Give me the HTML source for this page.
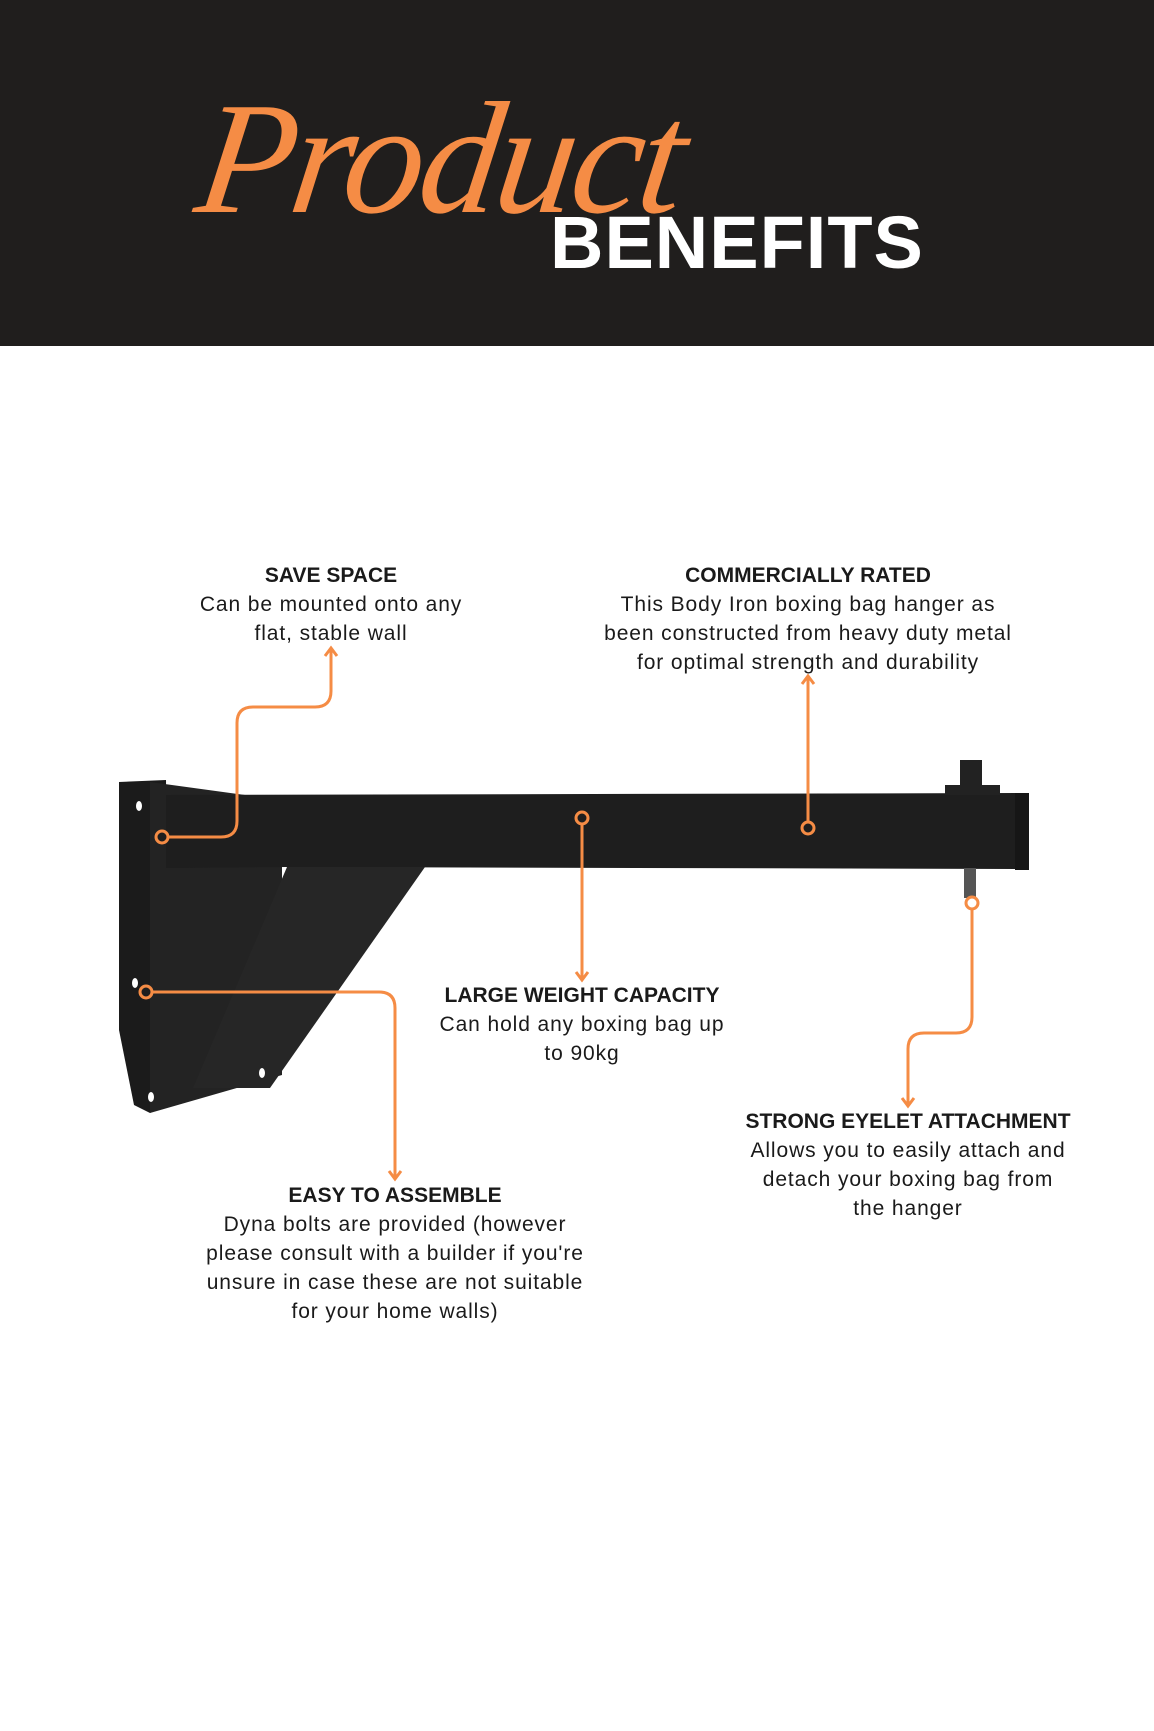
<!DOCTYPE html>
<html><head><meta charset="utf-8"><style>
html,body{margin:0;padding:0;}
body{width:1154px;height:1731px;position:relative;background:#fff;font-family:"Liberation Sans",sans-serif;overflow:hidden;}
.hdr{position:absolute;left:0;top:0;width:1154px;height:346px;background:#201e1d;}
.prod{position:absolute;left:200px;top:78px;font-family:"Liberation Serif",serif;font-style:italic;font-size:160px;color:#f58c45;letter-spacing:-4px;transform:skewX(-8deg);line-height:1;}
.ben{position:absolute;left:550px;top:206px;font-size:74px;font-weight:bold;color:#fff;line-height:1;letter-spacing:1px;}
.t{position:absolute;text-align:center;font-size:21px;line-height:29px;color:#1a1a1a;transform:translateX(-50%);white-space:nowrap;letter-spacing:0.9px;}
.t b{font-weight:bold;letter-spacing:0;}
</style></head><body>
<div class="hdr"></div>
<div class="prod">Product</div>
<div class="ben">BENEFITS</div>

<svg width="1154" height="1731" style="position:absolute;left:0;top:0">
 <polygon points="119,782 166,780 170,1100 150,1113 134,1105 119,1030" fill="#1b1b1b"/>
 <polygon points="150,782 282,800 282,1075 150,1113" fill="#232323"/>
 <polygon points="166,795 1027,793 1029,869 287,867 166,868" fill="#1e1e1e"/>
 <polygon points="287,867 425,867 270,1088 193,1088" fill="#262626"/>
 <rect x="1015" y="793" width="14" height="77" fill="#161616"/>
 <rect x="960" y="760" width="22" height="34" fill="#222"/>
 <rect x="945" y="785" width="55" height="10" fill="#222"/>
 <rect x="964" y="868" width="12" height="30" fill="#555"/>
 <g fill="#fff"><ellipse cx="139" cy="806" rx="3" ry="5"/><ellipse cx="135" cy="983" rx="3" ry="5"/><ellipse cx="151" cy="1097" rx="3" ry="5"/><ellipse cx="262" cy="1073" rx="3" ry="5"/></g>
 <g fill="none" stroke="#f58c45" stroke-width="3">
  <path d="M168,837 H221 Q237,837 237,821 V723 Q237,707 253,707 H315 Q331,707 331,691 V648"/>
  <path d="M325,656 L331,648 L337,656"/>
  <circle cx="162" cy="837" r="6" fill="#1e1e1e"/>
  <path d="M808,822 V676"/><path d="M802,684 L808,676 L814,684"/>
  <circle cx="808" cy="828" r="6" fill="#1e1e1e"/>
  <path d="M582,824 V980"/><path d="M576,972 L582,980 L588,972"/>
  <circle cx="582" cy="818" r="6" fill="#1e1e1e"/>
  <path d="M972,909 V1017 Q972,1033 956,1033 H924 Q908,1033 908,1049 V1106"/><path d="M902,1098 L908,1106 L914,1098"/>
  <circle cx="972" cy="903" r="6" fill="#fff"/>
  <path d="M152,992 H379 Q395,992 395,1008 V1179"/><path d="M389,1171 L395,1179 L401,1171"/>
  <circle cx="146" cy="992" r="6" fill="#1e1e1e"/>
 </g>
</svg>

<div class="t" style="left:331px;top:561px"><b>SAVE SPACE</b><br>Can be mounted onto any<br>flat, stable wall</div>
<div class="t" style="left:808px;top:561px"><b>COMMERCIALLY RATED</b><br>This Body Iron boxing bag hanger as<br>been constructed from heavy duty metal<br>for optimal strength and durability</div>
<div class="t" style="left:582px;top:981px"><b>LARGE WEIGHT CAPACITY</b><br>Can hold any boxing bag up<br>to 90kg</div>
<div class="t" style="left:908px;top:1107px"><b>STRONG EYELET ATTACHMENT</b><br>Allows you to easily attach and<br>detach your boxing bag from<br>the hanger</div>
<div class="t" style="left:395px;top:1181px"><b>EASY TO ASSEMBLE</b><br>Dyna bolts are provided (however<br>please consult with a builder if you're<br>unsure in case these are not suitable<br>for your home walls)</div>
</body></html>
